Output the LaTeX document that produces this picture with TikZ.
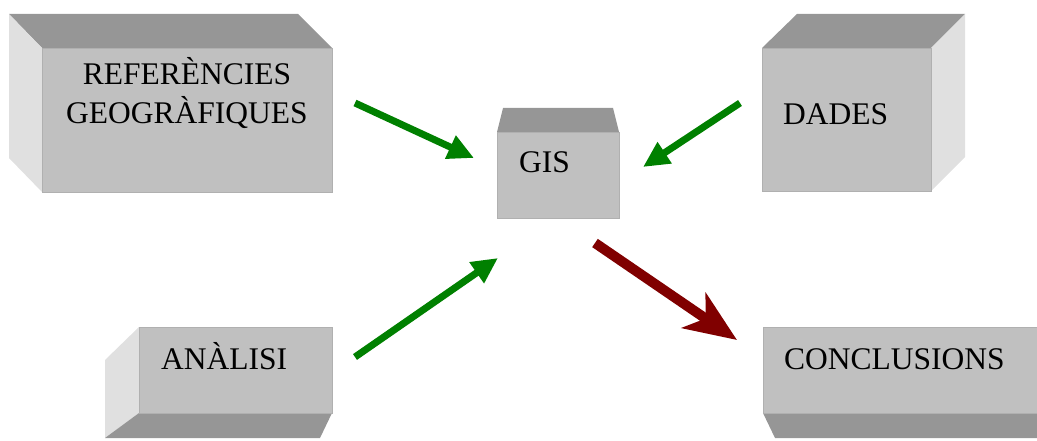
\documentclass[tikz,border=0pt]{standalone}
\usepackage{fontspec}
\setmainfont{Liberation Serif}
\usetikzlibrary{arrows.meta}
\definecolor{frontgray}{HTML}{C0C0C0}
\definecolor{topgray}{HTML}{969696}
\definecolor{sidegray}{HTML}{E0E0E0}
\definecolor{edgegray}{HTML}{B0B0B0}
\definecolor{arrowgreen}{HTML}{008000}
\definecolor{arrowred}{HTML}{800000}
\tikzset{
  front/.style={rectangle, fill=frontgray, draw=edgegray, line width=1pt, inner sep=0pt, anchor=north west},
  topface/.style={fill=topgray},
  sideface/.style={fill=sidegray},
  lbl/.style={inner sep=0pt, anchor=base west, font=\fontsize{31.5}{38}\selectfont},
  garrow/.style={draw=arrowgreen, line width=7pt, -{Triangle[length=26pt,width=24pt]}},
  rarrow/.style={draw=arrowred, line width=10pt, -{Stealth[length=52pt,width=42pt,inset=14pt]}}
}
\begin{document}
\begin{tikzpicture}[x=1pt,y=-1pt]
\useasboundingbox (0,0) rectangle (1037,441);
\clip (0,0) rectangle (1037,441);
% REFERENCIES box
\fill[topface] (42,48) -- (9,14) -- (298,14) -- (332,48) -- cycle;
\fill[sideface] (42,48) -- (9,14) -- (9,158) -- (42,192) -- cycle;
\node[front, minimum width=290pt, minimum height=144pt] (ref) at (42,48) {};
\node[inner sep=0pt, anchor=base, font=\fontsize{31.5}{38}\selectfont] (reftxt) at (187,85)
  {\begin{tabular}[t]{@{}c@{}}REFERÈNCIES\\GEOGRÀFIQUES\end{tabular}};
% GIS box
\fill[topface] (497,132) -- (503,108) -- (613,108) -- (619,132) -- cycle;
\node[front, minimum width=122pt, minimum height=86pt] (gis) at (497,132) {};
\node[lbl] (gistxt) at (519,173) {GIS};
% DADES box
\fill[topface] (762,48) -- (797,14) -- (965,14) -- (931,48) -- cycle;
\fill[sideface] (931,48) -- (965,14) -- (965,157) -- (931,191) -- cycle;
\node[front, minimum width=169pt, minimum height=143pt] (dades) at (762,48) {};
\node[lbl] (dadestxt) at (783,125) {DADES};
% ANALISI box
\fill[sideface] (139,327) -- (105,360) -- (105,438) -- (139,413) -- cycle;
\fill[topface] (139,413) -- (332,413) -- (320,438) -- (105,438) -- cycle;
\node[front, minimum width=193pt, minimum height=86pt] (anal) at (139,327) {};
\node[lbl] (analtxt) at (161,369) {ANÀLISI};
% CONCLUSIONS box
\fill[topface] (763,413) -- (1045,413) -- (1045,438) -- (775,438) -- cycle;
\node[front, minimum width=282pt, minimum height=86pt] (conc) at (763,327) {};
\node[lbl] (conctxt) at (784,369) {CONCLUSIONS};
% arrows
\coordinate (a1s) at (355,103);
\coordinate (a1e) at (474,158);
\coordinate (a2s) at (740,103);
\coordinate (a2e) at (643,167);
\coordinate (a3s) at (355,357);
\coordinate (a3e) at (498,258);
\coordinate (a4s) at (595,243);
\coordinate (a4e) at (737,340);
\draw[garrow] (a1s) -- (a1e);
\draw[garrow] (a2s) -- (a2e);
\draw[garrow] (a3s) -- (a3e);
\draw[rarrow] (a4s) -- (a4e);
\end{tikzpicture}
\end{document}
